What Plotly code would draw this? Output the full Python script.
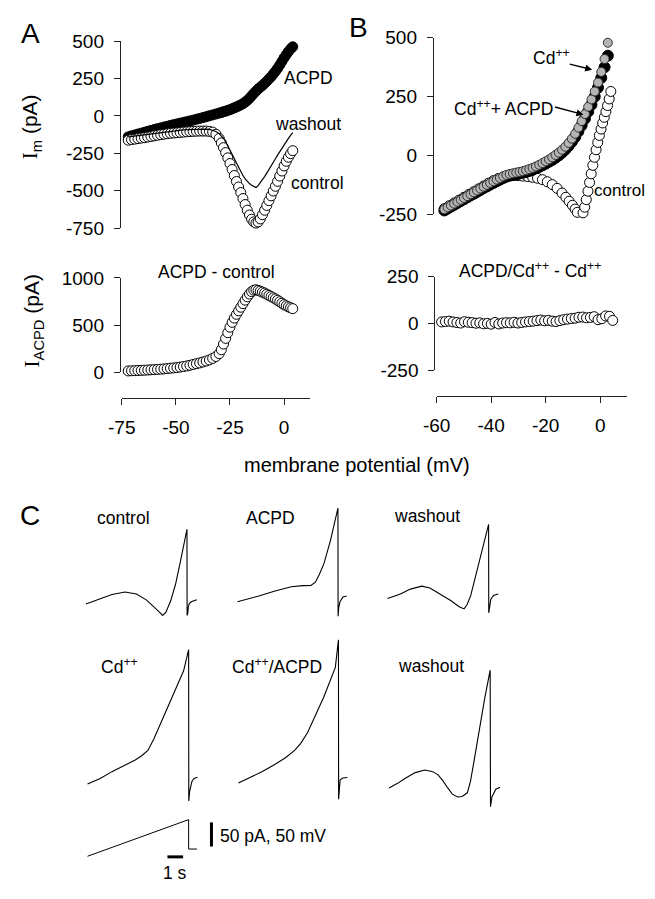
import plotly.graph_objects as go

FONT = "Liberation Sans, Arial, sans-serif"

# ---- panel A: I-V curves (membrane potential in mV, current in pA)
volt_a = [-72, -70.5, -69, -67.5, -66, -64.5, -63, -61.5, -60, -58.5, -57, -55.5, -54, -52.5, -51,
          -49.5, -48, -46.5, -45, -43.5, -42, -40.5, -39, -37.5, -36, -34.5, -33, -31.5, -30,
          -29, -28, -27, -26, -25, -24, -23, -22, -21, -20, -19, -18, -17, -16, -15, -14, -13,
          -12, -11, -10, -9, -8, -7, -6, -5, -4, -3, -2, -1, 0, 1, 2, 3, 4]
acpd_a = [-140, -133, -127, -121, -115, -109, -103, -97, -91, -85, -80, -74, -69, -63, -58,
          -53, -48, -43, -38, -33, -28, -22, -17, -11, -5, 1, 7, 13, 19,
          23, 28, 32, 37, 42, 48, 54, 60, 67, 74, 82, 92, 104, 118, 134, 150, 165,
          180, 192, 204, 218, 232, 247, 262, 280, 298, 318, 340, 364, 388, 410, 430, 448, 462]
control_a = [-162, -158, -155, -151, -148, -145, -141, -137, -133, -129, -125, -122, -119, -116, -114,
             -112, -110, -108, -106, -104, -103, -102, -101, -101, -101, -103, -108, -122, -150,
             -180, -212, -245, -280, -318, -358, -398, -438, -475, -512, -552, -592, -630, -662, -690, -708, -716,
             -708, -688, -660, -630, -598, -566, -534, -502, -470, -437, -402, -368, -334, -303, -276, -252, -232]
washout_a = [-140, -137, -134, -131, -128, -125, -121, -118, -115, -112, -109, -106, -104, -101, -99,
             -97, -95, -93, -91, -90, -89, -88, -87, -87, -88, -90, -95, -104, -118,
             -132, -150, -172, -198, -225, -255, -285, -315, -345, -372, -398, -420, -438, -452, -463, -472, -478,
             -466, -448, -428, -405, -382, -360, -335, -310, -286, -262, -238, -215, -192, -170, -150, -130, -112]
diff_a = [15, 17, 18, 20, 21, 23, 25, 27, 29, 31, 34, 37, 40, 44, 47,
          51, 56, 62, 68, 75, 84, 92, 100, 110, 120, 132, 148, 168, 198,
          240, 300, 360, 420, 478, 530, 575, 615, 652, 690, 728, 765, 800, 830, 855, 870, 875,
          868, 860, 850, 840, 828, 815, 803, 790, 778, 764, 748, 732, 718, 705, 694, 684, 675]

# ---- panel B: I-V curves in Cd++
volt_b = [-57.2, -56.0, -54.8, -53.6, -52.4, -51.2, -50.0, -48.8, -47.6, -46.4, -45.2, -44.0, -42.8,
          -41.6, -40.4, -39.2, -38.0, -36.8, -35.6, -34.4, -33.2, -32.0, -30.8, -29.6, -28.4, -27.2,
          -26.0, -24.8, -23.6, -22.4, -21.2, -20.0, -18.8, -17.6, -16.4, -15.2, -14.0, -12.8, -11.6,
          -10.4, -9.2, -8.0, -6.8, -5.6, -4.4, -3.2, -2.0, -0.8, 0.4, 1.6, 2.8]
cd_b = [-229, -221, -213, -205, -197, -189, -181, -173, -165, -157, -149, -141, -133,
        -125, -117, -110, -103, -96, -89, -83, -79, -76, -73, -70, -67, -63,
        -58, -53, -47, -40, -33, -25, -17, -8, 2, 12, 24, 37, 53,
        71, 92, 118, 146, 176, 207, 238, 272, 310, 355, 410, 479]
cd_acpd_b = [-234, -226, -218, -210, -202, -194, -186, -178, -170, -163, -155, -147, -139,
             -132, -124, -117, -110, -103, -96, -90, -86, -83, -80, -77, -74, -70,
             -66, -61, -55, -49, -42, -35, -27, -19, -10, 0, 12, 25, 40,
             58, 78, 102, 128, 156, 186, 216, 250, 288, 330, 375, 424]
volt_ctrl_b = [-57.2, -55.4, -53.6, -51.8, -50.0, -48.2, -46.4, -44.6, -42.8, -41.0,
               -39.2, -37.4, -35.6, -33.8, -32.0, -30.2, -28.4, -26.6, -24.8, -23.0,
               -21.2, -19.4, -17.6, -15.8, -14.0, -12.6, -11.4, -10.2, -9.2, -8.4,
               -7.6, -6.9, -6.3, -5.7, -5.1, -4.5, -3.9, -3.3, -2.7, -2.1,
               -1.5, -0.9, -0.3, 0.3, 0.9, 1.5, 2.1, 2.7, 3.3, 3.9]
control_b = [-226, -214, -202, -190, -178, -166, -154, -142, -130, -118,
             -107, -98, -92, -88, -86, -86, -88, -90, -93, -97,
             -103, -112, -124, -140, -160, -178, -195, -212, -228, -242,
             -252, -254, -244, -220, -188, -152, -115, -78, -42, -8,
             24, 55, 85, 112, 138, 162, 186, 212, 240, 272]
volt_diff_b = [-58.2, -56.8, -55.4, -54.0, -52.6, -51.2, -49.8, -48.4, -47.0, -45.6, -44.2, -42.8,
               -41.4, -40.0, -38.6, -37.2, -35.8, -34.4, -33.0, -31.6, -30.2, -28.8, -27.4, -26.0,
               -24.6, -23.2, -21.8, -20.4, -19.0, -17.6, -16.2, -14.8, -13.4, -12.0, -10.6, -9.2,
               -7.8, -6.4, -5.0, -3.6, -2.2, -0.8, 0.6, 2.0, 3.4, 4.6]
diff_b = [8, 10, 12, 8, 5, 2, 9, 6, 4, 1, 3, -2,
          0, -4, 5, -3, 2, 4, 3, 6, 2, 5, 8, 10,
          12, 15, 18, 14, 16, 12, 10, 15, 20, 23, 26, 28,
          33, 34, 30, 32, 36, 20, 25, 40, 38, 16]

# ---- panel C: ramp current traces (time in s, current in pA relative to start)
ctrl_t = [0, 0.42, 1.04, 1.67, 2.5, 3.23, 3.86, 4.36, 4.67, 4.9, 5.11, 5.42, 5.73, 6.04, 6.46, 6.47, 6.51, 6.54, 6.6, 6.73, 7.09]
ctrl_i = [0, 4.7, 12.8, 19.8, 24.9, 20.9, 8.7, -5.5, -15.6, -23.7, -17.6, 6.7, 41, 87.7, 155, -23.7, -19.6, -7.5, 0.6, 4.7, 8.7]
acpd_t = [0, 0.73, 1.36, 2.4, 3.44, 4.17, 4.69, 4.98, 5.23, 5.53, 5.94, 6.42, 6.43, 6.47, 6.55, 6.74, 6.98]
acpd_i = [0, 6.1, 12.1, 22.3, 31, 33.4, 33.8, 40.5, 56.7, 79.6, 127, 194, -29.8, -12, 0, 10, 12.1]
wash1_t = [0, 0.83, 1.46, 2.19, 2.71, 3.23, 4.06, 4.58, 4.89, 5.08, 5.31, 5.73, 6.14, 6.46, 6.47, 6.52, 6.6, 6.77, 7.08]
wash1_i = [0, 9.5, 19.6, 25.7, 21.7, 12.1, -4.7, -16.8, -21.5, -12.8, 5.5, 59.5, 112.8, 153.8, -29.6, -14.8, -1.2, 6.5, 9.5]
cd_t = [0, 0.81, 1.56, 2.31, 3.02, 3.44, 3.86, 4.25, 4.69, 5.52, 6.14, 6.46, 6.47, 6.53, 6.67, 6.81, 7.02]
cd_i = [0, 11.5, 25.7, 37.9, 49.4, 58.1, 69.6, 94.5, 127, 187.7, 234.8, 278.7, -35, -14.8, 5.5, 11.5, 14.2]
cdacpd_t = [0, 0.73, 1.5, 2.29, 2.98, 3.59, 3.98, 4.42, 4.92, 5.46, 6.19, 6.39, 6.40, 6.44, 6.5, 6.67, 6.96]
cdacpd_i = [0, 11.5, 23.7, 37.9, 52, 67.6, 82.4, 104.7, 141, 179, 239.7, 297, -33.6, -12.8, 6.9, 10.5, 11.5]
wash2_t = [0, 0.54, 1.04, 1.67, 2.29, 2.79, 3.13, 3.42, 3.75, 4.04, 4.38, 4.67, 5.0, 5.2, 5.42, 5.84, 6.11, 6.46, 6.48, 6.57, 6.67, 6.82, 7.09]
wash2_i = [0, 9.5, 20.2, 31.8, 37.2, 33.8, 27.1, 15.6, 0, -12.8, -18.8, -17.8, -10.1, 13.6, 54, 135, 185.6, 244.3, -39.1, -18.8, -13.4, -2.6, 1.4]
# voltage command (mV)
cmd_t = [0, 6.46, 6.46, 6.99]
cmd_v = [-72, 4, -57, -57]

# page is 655 x 899; the html body keeps an 8 px margin, so the figure is made
# smaller by that much on each side and page pixels are converted here
PAGE_W, PAGE_H = 655, 899
OX, OY = 8, 8
W, H = PAGE_W - 2 * OX, PAGE_H - 2 * OY


def fx(x):
    return (x - OX) / W


def fy(y):
    return 1 - (y - OY) / H


def xdom(a, b):
    return [fx(a), fx(b)]


def ydom(top, bottom):
    return [fy(bottom), fy(top)]


def ticks(vals):
    return dict(tickvals=vals, ticktext=[str(v) for v in vals])


fig = go.Figure()

open_mk = dict(symbol="circle", size=10, color="white", line=dict(color="black", width=1))
black_mk = dict(symbol="circle", size=10, color="black", line=dict(color="black", width=1))

# A top
fig.add_trace(go.Scatter(x=volt_a, y=acpd_a, mode="markers", marker=black_mk, xaxis="x", yaxis="y", cliponaxis=False))
fig.add_trace(go.Scatter(x=volt_a, y=control_a, mode="markers", marker=open_mk, xaxis="x", yaxis="y", cliponaxis=False))
fig.add_trace(go.Scatter(x=volt_a, y=washout_a, mode="lines", line=dict(color="black", width=1.2), xaxis="x", yaxis="y", cliponaxis=False))
# A bottom
fig.add_trace(go.Scatter(x=volt_a, y=diff_a, mode="markers", marker=open_mk, xaxis="x2", yaxis="y2", cliponaxis=False))
# B top
fig.add_trace(go.Scatter(x=volt_ctrl_b, y=control_b, mode="markers", marker=open_mk, xaxis="x3", yaxis="y3", cliponaxis=False))
fig.add_trace(go.Scatter(x=volt_b, y=cd_acpd_b, mode="markers", marker=dict(black_mk, size=11), xaxis="x3", yaxis="y3", cliponaxis=False))
fig.add_trace(go.Scatter(x=volt_b, y=cd_b, mode="markers",
                         marker=dict(symbol="circle", size=9, color="#b4b4b4", line=dict(color="#303030", width=1)),
                         xaxis="x3", yaxis="y3", cliponaxis=False))
# B bottom
fig.add_trace(go.Scatter(x=volt_diff_b, y=diff_b, mode="markers", marker=open_mk, xaxis="x4", yaxis="y4", cliponaxis=False))

# C traces: one axis in s / pA, each trace shifted to its spot
PX_S, PX_PA = 16.0, 0.494
C_TOP = 490


def place(t, i, x0, y0):
    return [(x0 - OX) / PX_S + v for v in t], [(H - (y0 - OY)) / PX_PA + v for v in i]


for t, i, x0, y0 in [(ctrl_t, ctrl_i, 73.3, 608.3), (acpd_t, acpd_i, 228.3, 606),
                     (wash1_t, wash1_i, 381.7, 602.7), (cd_t, cd_i, 75, 792.7),
                     (cdacpd_t, cdacpd_i, 229.3, 791.7), (wash2_t, wash2_i, 383.3, 796.7)]:
    xs, ys = place(t, i, x0, y0)
    fig.add_trace(go.Scatter(x=xs, y=ys, mode="lines", line=dict(color="black", width=1.1),
                             xaxis="x5", yaxis="y5", cliponaxis=False))

xs, ys = place(cmd_t, [v - cmd_v[0] for v in cmd_v], 75, 866.7)
fig.add_trace(go.Scatter(x=xs, y=ys, mode="lines", line=dict(color="black", width=1),
                         xaxis="x5", yaxis="y5", cliponaxis=False))

# scale bars: 1 s and 50 pA / 50 mV
bx, by = place([0, 1], [0, 0], 156.7, 867.3)
fig.add_shape(type="line", xref="x5", yref="y5", x0=bx[0], x1=bx[1], y0=by[0], y1=by[1], line=dict(color="black", width=3))
bx, by = place([0, 0], [0, 50], 201.7, 856.7)
fig.add_shape(type="line", xref="x5", yref="y5", x0=bx[0], x1=bx[1], y0=by[0], y1=by[1], line=dict(color="black", width=3))

axis_common = dict(showgrid=False, zeroline=False, showline=True, linecolor="#222", linewidth=1,
                   ticks="outside", ticklen=6, tickwidth=1, tickcolor="#222", ticklabelstandoff=6,
                   tickfont=dict(family=FONT, size=19, color="black"))

fig.update_layout(
    width=W, height=H, margin=dict(l=0, r=0, t=0, b=0), autosize=False,
    plot_bgcolor="white", paper_bgcolor="white", showlegend=False,
    font=dict(family=FONT, color="black"),
    xaxis=dict(domain=xdom(110, 302.5), range=[-75, 12], visible=False, anchor="y"),
    yaxis=dict(axis_common, domain=ydom(31.7, 223.3), range=[-750, 500], anchor="free",
               position=fx(108), **ticks([-750, -500, -250, 0, 250, 500])),
    xaxis2=dict(axis_common, domain=xdom(110, 302.5), range=[-75, 12], anchor="free",
                position=fy(397), **ticks([-75, -50, -25, 0])),
    yaxis2=dict(axis_common, domain=ydom(274.3, 371), range=[0, 1000], anchor="free",
                position=fx(108), **ticks([0, 500, 1000])),
    xaxis3=dict(domain=xdom(432, 627), range=[-60, 10], visible=False, anchor="y3"),
    yaxis3=dict(axis_common, domain=ydom(28.3, 209), range=[-250, 500], anchor="free",
                position=fx(428), **ticks([-250, 0, 250, 500])),
    xaxis4=dict(axis_common, domain=xdom(432, 627), range=[-60, 10], anchor="free",
                position=fy(395), **ticks([-60, -40, -20, 0])),
    yaxis4=dict(axis_common, domain=ydom(273, 368.7), range=[-250, 250], anchor="free",
                position=fx(429.5), **ticks([-250, 0, 250])),
    xaxis5=dict(domain=[0, 1], range=[0, W / PX_S], visible=False, anchor="y5"),
    yaxis5=dict(domain=[0, fy(C_TOP)], range=[0, (H - (C_TOP - OY)) / PX_PA], visible=False, anchor="x5"),
)


def label(text, x, y, size=17.5, xanchor="center", angle=0):
    fig.add_annotation(text=text, x=fx(x), y=fy(y), xref="paper", yref="paper", showarrow=False,
                       xanchor=xanchor, yanchor="middle", textangle=angle,
                       font=dict(family=FONT, size=size, color="black"))


def arrow(x_tail, y_tail, x_head, y_head):
    fig.add_annotation(text="", x=fx(x_head), y=fy(y_head), xref="paper", yref="paper", showarrow=True,
                       ax=x_tail - x_head, ay=y_tail - y_head, arrowhead=2, arrowsize=1,
                       arrowwidth=1.4, arrowcolor="black")


SERIF_I = "<span style='font-family:Liberation Serif, Times New Roman, serif'>I</span>"

label("A", 17, 24, size=28)
label("B", 352, 18, size=28)
label("C", 16, 518, size=28)

label(SERIF_I + "<sub>m</sub> (pA)", 18, 119, size=21, angle=-90)
label(SERIF_I + "<sub>ACPD</sub> (pA)", 19, 318, size=21, angle=-90)
label("membrane potential (mV)", 350, 466, size=20)

label("ACPD", 301, 69)
label("washout", 300, 117)
label("control", 310, 177)
label("ACPD - control", 207, 268)

label("Cd<sup>++</sup>", 549, 48)
label("Cd<sup>++</sup>+ ACPD", 500, 100)
label("control", 619, 185, size=17)
label("ACPD/Cd<sup>++</sup> - Cd<sup>++</sup>", 527, 266)
arrow(567, 55, 591, 61)
arrow(552, 99, 582, 107)

label("control", 111.5, 520)
label("ACPD", 262.5, 520)
label("washout", 421.7, 518)
label("Cd<sup>++</sup>", 108, 672)
label("Cd<sup>++</sup>/ACPD", 269, 672)
label("washout", 426, 672)

label("50 pA, 50 mV", 208, 846, xanchor="left")
label("1 s", 164.6, 884)

fig.write_html("out.html")
